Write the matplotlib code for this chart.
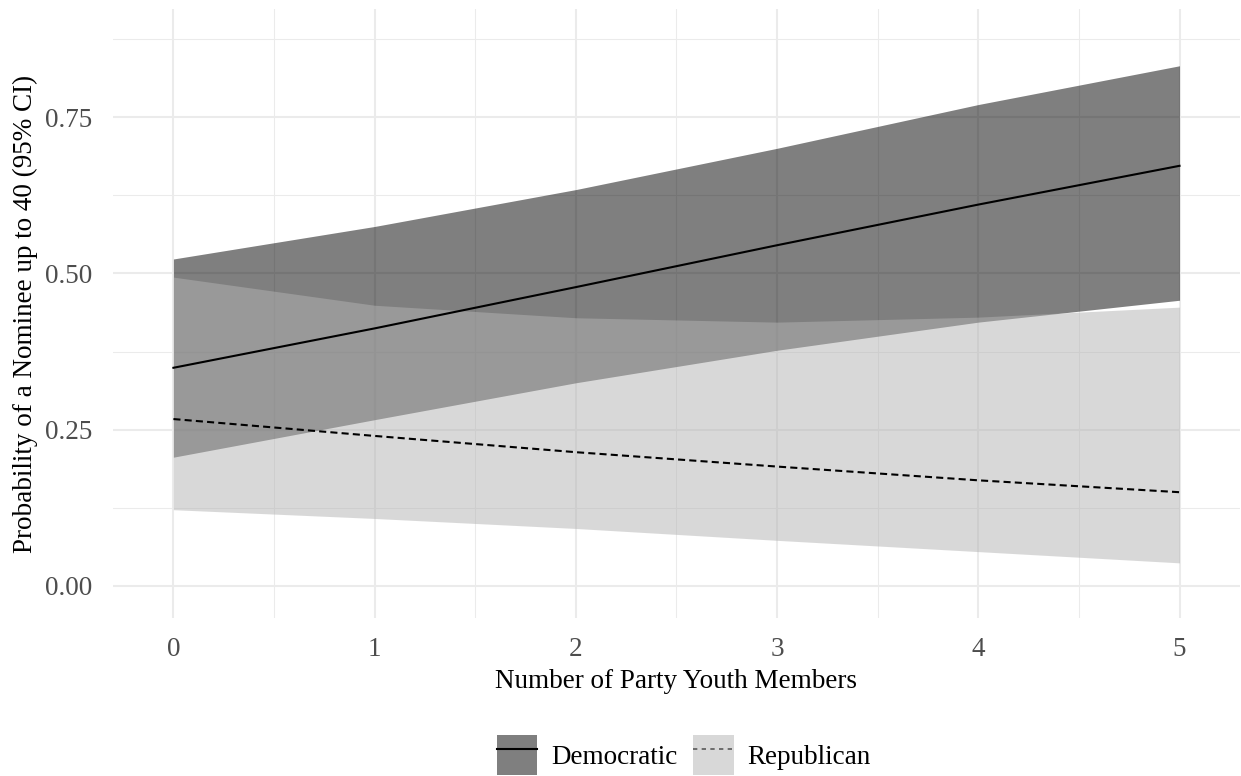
import matplotlib
matplotlib.use("Agg")
import matplotlib.pyplot as plt
from matplotlib.patches import Patch
from matplotlib.lines import Line2D

plt.rcParams["font.family"] = ["Liberation Serif", "DejaVu Serif"]

# predicted probabilities
youth = [0, 1, 2, 3, 4, 5]
dem_fit = [0.349, 0.412, 0.478, 0.545, 0.610, 0.672]
dem_lo = [0.206, 0.266, 0.325, 0.377, 0.422, 0.457]
dem_hi = [0.523, 0.575, 0.634, 0.700, 0.770, 0.832]
rep_fit = [0.267, 0.240, 0.214, 0.191, 0.169, 0.150]
rep_lo = [0.122, 0.108, 0.092, 0.073, 0.055, 0.037]
rep_hi = [0.494, 0.449, 0.429, 0.422, 0.430, 0.446]

yticks = [0, 0.25, 0.5, 0.75]
ytick_labels = ["0.00", "0.25", "0.50", "0.75"]

fig = plt.figure(figsize=(12.41, 7.76), dpi=100)
ax = fig.add_axes([0.0911, 0.2036, 0.908, 0.7848])

# grid like theme_minimal
ax.set_xticks(youth)
ax.set_xticks([0.5, 1.5, 2.5, 3.5, 4.5], minor=True)
ax.set_yticks(yticks)
ax.set_yticklabels(ytick_labels)
ax.set_yticks([0.125, 0.375, 0.625, 0.875], minor=True)
ax.grid(which="major", color="#ebebeb", linewidth=1.5)
ax.grid(which="minor", color="#ebebeb", linewidth=0.75)
ax.set_axisbelow(True)
for s in ax.spines.values():
    s.set_visible(False)
ax.tick_params(which="both", length=0)
ax.tick_params(axis="both", labelsize=19.5, labelcolor="#4d4d4d")
ax.tick_params(axis="x", pad=14)
ax.tick_params(axis="y", pad=15)

lw = 1.5
dash = (0, (3.4, 2.0))

ax.fill_between(youth, dem_lo, dem_hi, color="black", alpha=0.5, linewidth=0)
ax.plot(youth, dem_fit, color="black", linewidth=lw)
ax.plot(youth, rep_fit, color="black", linewidth=lw, linestyle=dash)
ax.fill_between(youth, rep_lo, rep_hi, color="#b3b3b3", alpha=0.5, linewidth=0)

ax.set_xlim(-0.3, 5.3)
ax.set_ylim(-0.0512, 0.9228)

ax.set_xlabel("Number of Party Youth Members", fontsize=19.5, labelpad=5)
ax.set_ylabel("Probability of a Nominee up to 40 (95% CI)", fontsize=19.5, labelpad=5)

h_dem = (Patch(facecolor="black", alpha=0.5, linewidth=0),
         Line2D([], [], color="black", linewidth=lw))
h_rep = (Line2D([], [], color="black", linewidth=1.2, linestyle=(0, (2.6, 2.6))),
         Patch(facecolor="#b3b3b3", alpha=0.5, linewidth=0))
fig.legend([h_dem, h_rep], ["Democratic", "Republican"], loc="center",
           bbox_to_anchor=(0.551, 0.027), ncol=2, frameon=False, fontsize=19.5,
           handlelength=1.5, handleheight=1.9, handletextpad=0.5,
           columnspacing=0.6, borderpad=0)

fig.savefig("out.png", dpi=100)
